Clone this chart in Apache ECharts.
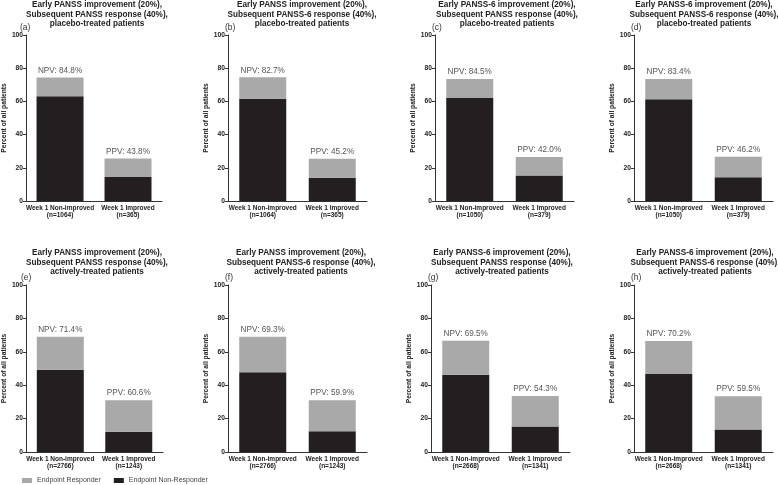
<!DOCTYPE html>
<html>
<head>
<meta charset="utf-8">
<script src="https://cdn.jsdelivr.net/npm/echarts@6/dist/echarts.min.js"></script>
<style>html,body{margin:0;padding:0;background:#fff}#c{width:778px;height:485px}</style>
</head>
<body>
<div id="c"></div>
<script>
// ---- data ----
const panelLetters = ['(a)','(b)','(c)','(d)','(e)','(f)','(g)','(h)'];
const panelTitles = [
  'Early PANSS improvement (20%),\nSubsequent PANSS response (40%),\nplacebo-treated patients',
  'Early PANSS improvement (20%),\nSubsequent PANSS-6 response (40%),\nplacebo-treated patients',
  'Early PANSS-6 improvement (20%),\nSubsequent PANSS response (40%),\nplacebo-treated patients',
  'Early PANSS-6 improvement (20%),\nSubsequent PANSS-6 response (40%),\nplacebo-treated patients',
  'Early PANSS improvement (20%),\nSubsequent PANSS response (40%),\nactively-treated patients',
  'Early PANSS improvement (20%),\nSubsequent PANSS-6 response (40%),\nactively-treated patients',
  'Early PANSS-6 improvement (20%),\nSubsequent PANSS response (40%),\nactively-treated patients',
  'Early PANSS-6 improvement (20%),\nSubsequent PANSS-6 response (40%),\nactively-treated patients'
];
const nonImprovedN = [1064, 1064, 1050, 1050, 2766, 2766, 2668, 2668];
const improvedN = [365, 365, 379, 379, 1243, 1243, 1341, 1341];
const npv = [84.8, 82.7, 84.5, 83.4, 71.4, 69.3, 69.5, 70.2];
const ppv = [43.8, 45.2, 42.0, 46.2, 60.6, 59.9, 54.3, 59.5];
// [Week 1 Non-improved, Week 1 Improved] per panel
const nonResponderA = [63.1, 14.4];
const nonResponderB = [61.6, 14.0];
const nonResponderC = [62.1, 15.4];
const nonResponderD = [61.3, 14.3];
const nonResponderE = [49.3, 12.2];
const nonResponderF = [47.8, 12.4];
const nonResponderG = [46.3, 15.3];
const nonResponderH = [46.7, 13.5];
const responderA = [11.3, 11.2];
const responderB = [12.9, 11.5];
const responderC = [11.4, 11.1];
const responderD = [12.2, 12.3];
const responderE = [19.7, 18.8];
const responderF = [21.2, 18.6];
const responderG = [20.3, 18.2];
const responderH = [19.8, 19.9];
const yTicks = [0, 20, 40, 60, 80, 100];

const nonResponder = [nonResponderA, nonResponderB, nonResponderC, nonResponderD, nonResponderE, nonResponderF, nonResponderG, nonResponderH];
const responder = [responderA, responderB, responderC, responderD, responderE, responderF, responderG, responderH];

// ---- layout ----
const FONT = '"Liberation Sans", Arial, Helvetica, sans-serif';
const gridLeft = [23, 228, 435, 634, 24, 228, 431, 634];
const titleCenter = [97, 302, 507, 704, 97, 301, 502, 705];
const GRID_W = 139;
const GRAY = '#a9a9a9', BLACK = '#231f20';

const grids = [], xAxes = [], yAxes = [], series = [], titles = [];
for (let i = 0; i < 8; i++) {
  const top = i < 4 ? 35 : 285;
  const height = i < 4 ? 166 : 167;
  grids.push({left: gridLeft[i], top: top, width: GRID_W, height: height});
  xAxes.push({
    type: 'category', gridIndex: i,
    data: ['Week 1 Non-improved\n(n=' + nonImprovedN[i] + ')', 'Week 1 Improved\n(n=' + improvedN[i] + ')'],
    axisLine: {lineStyle: {color: '#333', width: 1}},
    axisTick: {show: false},
    axisLabel: {fontFamily: FONT, fontSize: 6.5, fontWeight: 'bold', color: '#222', lineHeight: 7.5, margin: 3, interval: 0}
  });
  yAxes.push({
    type: 'value', gridIndex: i, min: yTicks[0], max: yTicks[yTicks.length - 1], interval: yTicks[1] - yTicks[0],
    name: 'Percent of all patients', nameLocation: 'middle', nameGap: 15, nameRotate: 90,
    nameTextStyle: {fontFamily: FONT, fontSize: 6.7, fontWeight: 'bold', color: '#222'},
    axisLine: {show: true, lineStyle: {color: '#333', width: 1}},
    axisTick: {show: true, length: 3, lineStyle: {color: '#333'}},
    splitLine: {show: false},
    axisLabel: {fontFamily: FONT, fontSize: 6.7, fontWeight: 'bold', color: '#222', margin: 3}
  });
  series.push({
    name: 'Endpoint Non-Responder', type: 'bar', stack: 's' + i, xAxisIndex: i, yAxisIndex: i,
    data: nonResponder[i], barWidth: 47, itemStyle: {color: BLACK}
  });
  const idx = i;
  series.push({
    name: 'Endpoint Responder', type: 'bar', stack: 's' + i, xAxisIndex: i, yAxisIndex: i,
    data: responder[i], barWidth: 47, itemStyle: {color: GRAY},
    label: {
      show: true, position: 'top', distance: 3, fontFamily: FONT, fontSize: 8.2, color: '#555',
      formatter: p => p.dataIndex === 0 ? 'NPV: ' + npv[idx].toFixed(1) + '%' : 'PPV: ' + ppv[idx].toFixed(1) + '%'
    }
  });
  titles.push({
    text: panelTitles[i], left: titleCenter[i], top: i < 4 ? 0 : 248, textAlign: 'center', padding: 0,
    textStyle: {fontFamily: FONT, fontSize: 8.2, fontWeight: 'bold', color: '#222', lineHeight: 9.5}
  });
  titles.push({
    text: panelLetters[i], left: gridLeft[i] - 3, top: i < 4 ? 23 : 273, padding: 0,
    textStyle: {fontFamily: FONT, fontSize: 8.5, fontWeight: 'normal', color: '#333'}
  });
}

const chart = echarts.init(document.getElementById('c'), null, {renderer: 'canvas'});
chart.setOption({
  animation: false,
  backgroundColor: '#fff',
  title: titles,
  legend: {
    data: ['Endpoint Responder', 'Endpoint Non-Responder'],
    left: 22, top: 477, padding: 0, icon: 'rect', itemWidth: 10, itemHeight: 5, itemGap: 13,
    textStyle: {fontFamily: FONT, fontSize: 7, color: '#444'}
  },
  grid: grids, xAxis: xAxes, yAxis: yAxes, series: series
});
</script>
</body>
</html>
